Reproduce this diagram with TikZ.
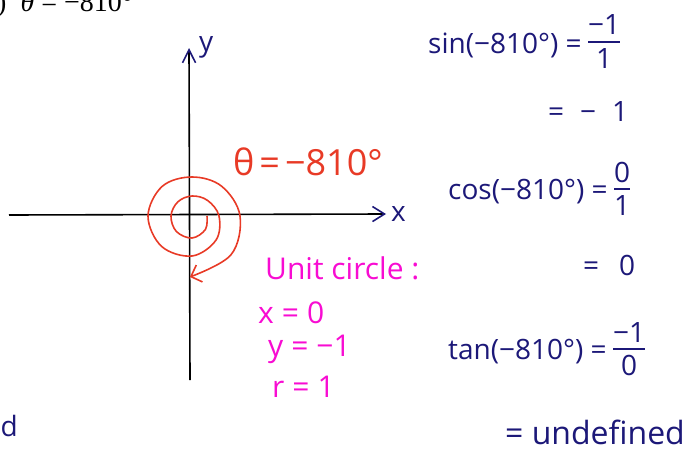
\documentclass[tikz,border=0pt]{standalone}
\usepackage{fontspec}
\setmainfont{Open Sans}
\newfontfamily\printfont{Liberation Serif}
\usetikzlibrary{arrows.meta,positioning}
\definecolor{inkred}{RGB}{232,58,38}
\definecolor{inkpink}{RGB}{248,12,210}
\definecolor{inknavy}{RGB}{28,24,120}
\setlength{\arrayrulewidth}{1.4pt}
\newcommand{\handfrac}[2]{\begin{tabular}{@{}c@{}}#1\\[-4pt]\hline\rule{0pt}{26pt}#2\end{tabular}}
\newcommand{\gap}[1][8pt]{\hspace{#1}}

\begin{document}
\begin{tikzpicture}[x=1pt, y=-1pt,
  axis/.style={line width=1.6pt, black},
  spiral/.style={line width=1.6pt, inkred},
  redtxt/.style={text=inkred, inner sep=0pt, font=\fontsize{36}{42}\selectfont},
  pinktxt/.style={text=inkpink, inner sep=0pt, anchor=west, font=\fontsize{30}{36}\selectfont},
  navytxt/.style={text=inknavy, inner sep=0pt, font=\fontsize{28}{34}\selectfont},
  fracbox/.style={navytxt, right=6pt of #1},
  >=Straight Barb
]

  \useasboundingbox (0,0) rectangle (691,455);
  \clip (0,0) rectangle (691,455);

  %--- Heading (cut at the top) ---
  \node[anchor=base west, inner sep=0pt, font=\printfont\fontsize{28}{32}\selectfont]
    (head) at (-3,12) {)\ \ {\itshape θ} = −810°};

  %--- Axes ---
  \coordinate (xstart) at (9,215);
  \coordinate (xend)   at (386,214);
  \coordinate (ystart) at (190,380);
  \coordinate (yend)   at (189,48);
  \draw[axis, -{Straight Barb[length=12pt, width=15pt, line width=1.6pt, color=inknavy]}]
    (xstart) -- (xend);
  \draw[axis, -{Straight Barb[length=13pt, width=13pt, line width=1.6pt, color=inknavy]}]
    (ystart) -- (yend);
  \node[navytxt, right=5pt of xend] (xlab) {x};
  \node[navytxt, anchor=north west] (ylab) at (199,36) {y};

  %--- Spiral for -810 degrees ---
  \begin{scope}[shift={(192,216)}]
    \draw[spiral, -{Straight Barb[length=9pt, width=18pt, line width=1.6pt]}]
      plot[smooth, tension=0.6] coordinates {
        (0:15) (45:19) (90:22) (135:22) (180:21) (225:20) (270:20) (315:22)
        (360:27) (405:34) (450:40) (495:43) (540:44) (585:42) (630:39)
        (675:42) (720:48) (765:55) (812:61)};
  \end{scope}
  \node[redtxt] (thetalab) at (308,162) {θ\gap[5pt]=\gap[5pt]−810°};

  %--- Unit circle values ---
  \node[pinktxt] (unitlab) at (265,268) {Unit circle :};
  \node[pinktxt] (xval) at (258,313) {x\gap=\gap0};
  \node[pinktxt] (yval) at (268,349) {y\gap=\gap−1};
  \node[pinktxt] (rval) at (272,387) {r\gap=\gap1};

  %--- Ratios ---
  \node[navytxt, anchor=west] (sinlhs) at (428,45) {sin(−810°) =};
  \node[fracbox=sinlhs] (sinfrac) {\handfrac{−1}{1}};
  \node[navytxt, anchor=west] (sinval) at (548,112) {=\gap[16pt]−\gap[16pt]1};

  \node[navytxt, anchor=west] (coslhs) at (448,192) {cos(−810°) =};
  \node[fracbox=coslhs] (cosfrac) {\handfrac{0}{1}};
  \node[navytxt, anchor=west] (cosval) at (583,265) {=\gap[20pt]0};

  \node[navytxt, anchor=west] (tanlhs) at (448,352) {tan(−810°) =};
  \node[fracbox=tanlhs] (tanfrac) {\handfrac{−1}{0}};
  \node[navytxt, anchor=west, font=\fontsize{32}{38}\selectfont] (tanval) at (505,432) {= undefined};

  %--- Left over from the previous answer ---
  \node[navytxt, anchor=base east] (dtail) at (18,436) {d};

\end{tikzpicture}
\end{document}
